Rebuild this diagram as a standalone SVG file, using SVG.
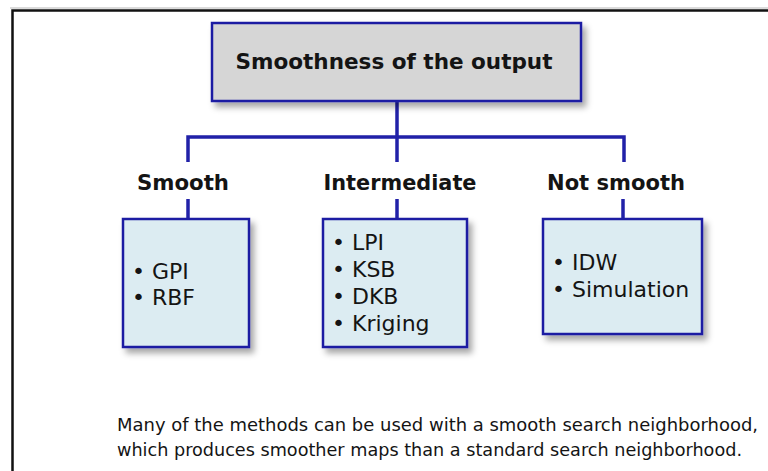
<svg xmlns="http://www.w3.org/2000/svg" width="768" height="471" viewBox="0 0 768 471">
<defs>
<filter id="sh" x="-10%" y="-10%" width="130%" height="130%">
<feDropShadow dx="4" dy="5" stdDeviation="3" flood-color="#000" flood-opacity="0.35"/>
</filter>
<style>
.box{stroke:#1f1fa3;stroke-width:2.5;filter:url(#sh)}
.top{fill:#d6d6d6}
.leaf{fill:#dcecf2}
.conn{fill:none;stroke:#2121a8;stroke-width:3.5;stroke-linecap:butt}
.h{font-family:"DejaVu Sans",Verdana,sans-serif;font-weight:bold;fill:#141414}
.t{font-family:"DejaVu Sans",Verdana,sans-serif;fill:#141414;font-size:22px}
.n{font-family:"DejaVu Sans",Verdana,sans-serif;fill:#141414;font-size:18px}
</style>
</defs>
<rect x="0" y="0" width="768" height="471" fill="#fff"/>
<line x1="10" y1="8" x2="768" y2="8" stroke="#cfcfcf" stroke-width="1.5"/>
<rect x="12.5" y="10.5" width="820" height="520" fill="none" stroke="#111" stroke-width="2.5"/>
<g id="connectors">
<path class="conn" d="M397 101 V162"/>
<path class="conn" d="M188 162 V137 H624 V162"/>
<path class="conn" d="M188 199 V219"/>
<path class="conn" d="M397 199 V219"/>
<path class="conn" d="M623 199 V219"/>
</g>
<g id="root">
<rect class="box top" x="212" y="23" width="369" height="78"/>
<text class="h" x="394" y="69" font-size="21" text-anchor="middle" textLength="317" lengthAdjust="spacingAndGlyphs">Smoothness of the output</text>
</g>
<g id="smooth">
<text class="h" x="183" y="190" font-size="21" text-anchor="middle" textLength="92" lengthAdjust="spacingAndGlyphs">Smooth</text>
<rect class="box leaf" x="123" y="219" width="126" height="128"/>
<text class="t" x="132" y="279">• GPI</text>
<text class="t" x="132" y="305">• RBF</text>
</g>
<g id="intermediate">
<text class="h" x="400" y="190" font-size="21" text-anchor="middle" textLength="153" lengthAdjust="spacingAndGlyphs">Intermediate</text>
<rect class="box leaf" x="323" y="219" width="144" height="128"/>
<text class="t" x="332" y="250">• LPI</text>
<text class="t" x="332" y="277">• KSB</text>
<text class="t" x="332" y="304">• DKB</text>
<text class="t" x="332" y="331">• Kriging</text>
</g>
<g id="notsmooth">
<text class="h" x="616" y="190" font-size="21" text-anchor="middle" textLength="138" lengthAdjust="spacingAndGlyphs">Not smooth</text>
<rect class="box leaf" x="543" y="219" width="159" height="115"/>
<text class="t" x="552" y="270">• IDW</text>
<text class="t" x="552" y="297">• Simulation</text>
</g>
<g id="note">
<text class="n" x="117" y="431" textLength="641" lengthAdjust="spacingAndGlyphs">Many of the methods can be used with a smooth search neighborhood,</text>
<text class="n" x="117" y="456" textLength="625" lengthAdjust="spacingAndGlyphs">which produces smoother maps than a standard search neighborhood.</text>
</g>
</svg>
